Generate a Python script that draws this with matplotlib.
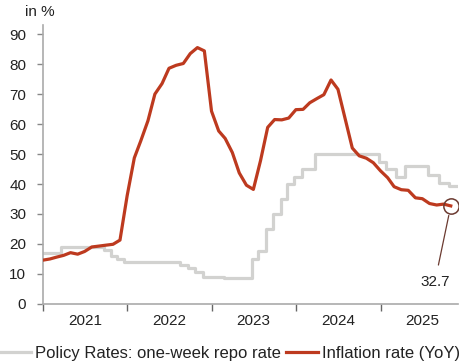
import matplotlib
matplotlib.use("Agg")
import matplotlib.pyplot as plt
import pandas as pd

# Consumer price inflation, year on year, month-end readings (Dec 2020 - Oct 2025)
inflation = [
    14.6,
    15.0, 15.6, 16.2, 17.1, 16.6, 17.5, 19.0, 19.3, 19.6, 19.9, 21.3, 36.1,
    48.7, 54.4, 61.1, 70.0, 73.5, 78.6, 79.6, 80.2, 83.5, 85.5, 84.4, 64.3,
    57.7, 55.2, 50.5, 43.7, 39.6, 38.2, 47.8, 58.9, 61.5, 61.4, 62.0, 64.8,
    64.9, 67.1, 68.5, 69.8, 74.7, 71.6, 61.8, 52.0, 49.4, 48.6, 47.1, 44.4,
    42.1, 39.1, 38.1, 37.9, 35.4, 35.1, 33.5, 33.0, 33.3, 32.7,
]
inflation_dates = pd.date_range("2020-12-31", periods=len(inflation), freq="ME")

# One-week repo rate: decision dates and new levels
repo_dates = pd.to_datetime([
    "2020-12-24", "2021-03-18", "2021-09-23", "2021-10-21", "2021-11-18",
    "2021-12-16", "2022-08-18", "2022-09-22", "2022-10-20", "2022-11-24",
    "2023-02-23", "2023-06-22", "2023-07-20", "2023-08-24", "2023-09-21",
    "2023-10-26", "2023-11-23", "2023-12-21", "2024-01-25", "2024-03-21",
    "2024-12-26", "2025-01-23", "2025-03-06", "2025-04-17", "2025-07-24",
    "2025-09-11", "2025-10-23", "2025-11-30",
])
repo_rate = [
    17, 19, 18, 16, 15,
    14, 13, 12, 10.5, 9,
    8.5, 15, 17.5, 25, 30,
    35, 40, 42.5, 45, 50,
    47.5, 45, 42.5, 46, 43,
    40.5, 39.5, 39.5,
]

year_labels = ["2021", "2022", "2023", "2024", "2025"]
y_ticks = [0, 10, 20, 30, 40, 50, 60, 70, 80, 90]

plt.rcParams["font.family"] = ["Liberation Sans", "DejaVu Sans"]

RED = "#bd3a1f"
GREY = "#d2d2d0"
AXIS = "#aaaaaa"
TEXT = "#222222"
MARK = "#6b3a30"

fig = plt.figure(figsize=(4.6, 3.64), dpi=100)
ax = fig.add_axes([0.0935, 0.165, 0.902, 0.766])

ax.plot(repo_dates, repo_rate, drawstyle="steps-post", color=GREY, lw=2.3,
        label="Policy Rates: one-week repo rate", zorder=2)
ax.plot(inflation_dates, inflation, color=RED, lw=2.3,
        label="Inflation rate (YoY)", zorder=3, solid_joinstyle="round")

# Highlight the latest inflation reading
last_x, last_y = inflation_dates[-1], inflation[-1]
ax.plot([last_x], [last_y], marker="o", ms=11, mfc="none", mec=MARK,
        mew=1.1, zorder=4)
ax.annotate(f"{last_y:.1f}", xy=(last_x, last_y), xycoords="data",
            xytext=(-11.5, -55), textcoords="offset points",
            ha="center", va="center", fontsize=11, color=TEXT,
            arrowprops=dict(arrowstyle="-", color=MARK, lw=0.9,
                            shrinkA=5.5, shrinkB=7))

ax.set_xlim(pd.Timestamp("2021-01-01"), pd.Timestamp("2025-12-01"))
ax.set_ylim(0, 93)

ax.set_yticks(y_ticks)
ax.tick_params(axis="y", direction="out", length=4, width=1, color="#888888",
               labelsize=11, labelcolor=TEXT, pad=8)

years = [int(y) for y in year_labels]
ax.set_xticks([pd.Timestamp(f"{y}-01-01") for y in years])
ax.set_xticklabels([])
ax.set_xticks([pd.Timestamp(f"{y}-07-01") for y in years], minor=True)
ax.set_xticklabels(year_labels, minor=True)
ax.tick_params(axis="x", which="major", direction="out", length=5, width=1,
               color="#666666")
ax.tick_params(axis="x", which="minor", length=0, labelsize=11,
               labelcolor=TEXT, pad=7)

for side in ("top", "right"):
    ax.spines[side].set_visible(False)
for side in ("left", "bottom"):
    ax.spines[side].set_color(AXIS)
    ax.spines[side].set_linewidth(1.2)

fig.text(0.054, 0.967, "in %", fontsize=11, color=TEXT, ha="left", va="center")

fig.legend(loc="center", bbox_to_anchor=(0.5, 0.03), ncol=2, frameon=False,
           fontsize=12, handlelength=1.9, handletextpad=0.25,
           columnspacing=0.3, labelcolor=TEXT, borderaxespad=0)

fig.savefig("out.png", dpi=100)
